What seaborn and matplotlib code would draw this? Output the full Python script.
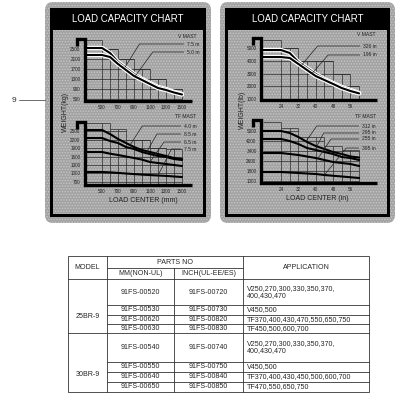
import numpy as np
import matplotlib
matplotlib.use("Agg")
import matplotlib.pyplot as plt
import matplotlib.patheffects as pe
from matplotlib.patches import Rectangle, FancyBboxPatch
import seaborn as sns

sns.set_style("white")
plt.rcParams["font.family"] = ["Liberation Sans", "DejaVu Sans"]
plt.rcParams["hatch.linewidth"] = 0.7

# ================= DATA =================
# ---- left label: metric (load center mm, weight kg) ----
mm_ticks = [500, 700, 900, 1100, 1300, 1500]
mm_grid = [500, 600, 700, 800, 900, 1000, 1100, 1200, 1300, 1400, 1500]

v_kg_ticks = [2500, 2100, 1700, 1300, 900, 500]
v_kg_steps_x = [290, 500, 700, 900, 1100, 1300, 1500]
v_kg_steps_top = [2860, 2500, 2100, 1700, 1300, 900]
v_kg_lc = [290, 500, 600, 700, 800, 900, 1000, 1100, 1200, 1300, 1400, 1500]
v_kg_75m = [2540, 2540, 2340, 1980, 1740, 1500, 1300, 1140, 980, 900, 780, 700]
v_kg_50m = [2260, 2260, 2180, 1900, 1660, 1420, 1260, 1100, 940, 860, 760, 680]
v_kg_names = ["7.5 m", "5.0 m"]

tf_kg_ticks = [2500, 2200, 1900, 1600, 1300, 1000, 700]
tf_kg_steps_x = [290, 600, 800, 1100, 1300, 1500]
tf_kg_steps_top = [2800, 2560, 2200, 1900, 1880]
tf_kg_lc = [290, 500, 600, 700, 800, 900, 1000, 1100, 1200, 1300, 1400, 1500]
tf_kg_40m = [2535, 2535, 2394, 2218, 2076, 1935, 1829, 1759, 1688, 1618, 1547, 1512]
tf_kg_85m = [2253, 2253, 2147, 2076, 1935, 1865, 1759, 1688, 1618, 1582, 1512, 1476]
tf_kg_65m = [1759, 1759, 1700, 1653, 1600, 1547, 1490, 1406, 1370, 1335, 1300, 1265]
tf_kg_75m = [1053, 1053, 1040, 1020, 1000, 980, 960, 945, 930, 915, 895, 876]
tf_kg_names = ["4.0 m", "8.5 m", "6.5 m", "7.5 m"]

# ---- right label: imperial (load center in, weight lb) ----
in_ticks = [24, 32, 40, 48, 56]
in_grid = [24, 28, 32, 36, 40, 44, 48, 52, 56, 60]

v_lb_ticks = [5000, 4000, 3000, 2000, 1000]
v_lb_steps_x = [15.5, 24, 32, 48, 56, 60]
v_lb_steps_top = [5630, 5000, 4000, 3000, 2000]
v_lb_lc = [15, 24, 28, 32, 36, 40, 44, 48, 52, 56, 60]
v_lb_326in = [4840, 4840, 4610, 3900, 3430, 2960, 2570, 2250, 1940, 1710, 1470]
v_lb_196in = [4290, 4290, 4220, 3750, 3270, 2800, 2490, 2180, 1860, 1630, 1440]
v_lb_names = ["326 in", "196 in"]

tf_lb_ticks = [5000, 4200, 3400, 2600, 1800, 1000]
tf_lb_steps_x = [15.5, 24, 32, 44, 52, 60]
tf_lb_steps_top = [5720, 5240, 4520, 3800, 3480]
tf_lb_lc = [15, 24, 28, 32, 36, 40, 44, 48, 52, 56, 60]
tf_lb_312in = [5000, 5000, 4840, 4520, 4120, 3800, 3560, 3320, 3160, 2960, 2880]
tf_lb_295in = [4360, 4360, 4200, 3960, 3640, 3480, 3320, 3160, 2920, 2840, 2680]
tf_lb_255in = [3240, 3240, 3160, 3080, 2960, 2840, 2680, 2520, 2440, 2360, 2200]
tf_lb_395in = [1720, 1720, 1680, 1640, 1600, 1560, 1480, 1420, 1360, 1300, 1240]
tf_lb_names = ["312 in", "295 in", "255 in", "395 in"]

# ---- parts table ----
models = ["25BR-9", "30BR-9"]
mm_parts = ["91FS-00520", "91FS-00530", "91FS-00620", "91FS-00630",
            "91FS-00540", "91FS-00550", "91FS-00640", "91FS-00650"]
inch_parts = ["91FS-00720", "91FS-00730", "91FS-00820", "91FS-00830",
              "91FS-00740", "91FS-00750", "91FS-00840", "91FS-00850"]
applications = ["V250,270,300,330,350,370,\n400,430,470", "V450,500",
                "TF370,400,430,470,550,650,750", "TF450,500,600,700",
                "V250,270,300,330,350,370,\n400,430,470", "V450,500",
                "TF370,400,430,450,500,600,700", "TF470,550,650,750"]
header_texts = ["MODEL", "PARTS NO", "MM(NON-UL)", "INCH(UL-EE/ES)", "APPLICATION"]

# ================= FIGURE =================
W = H = 400
fig = plt.figure(figsize=(4, 4), dpi=100)
fig.patch.set_facecolor("white")
bg = fig.add_axes([0, 0, 1, 1])
bg.set_xlim(0, W)
bg.set_ylim(H, 0)
bg.axis("off")

PANEL = "#a2a2a2"
DOTS = "#c6c6c6"

def panel(ox0, ox1, bx0, bx1):
    bg.add_patch(FancyBboxPatch((ox0, 2), ox1 - ox0, 221,
                                boxstyle="round,pad=0,rounding_size=8",
                                facecolor=PANEL, edgecolor=DOTS, hatch="......", lw=0))
    bg.add_patch(Rectangle((bx0, 8), bx1 - bx0, 209, facecolor="black", lw=0))
    bg.add_patch(Rectangle((bx0 + 3, 30), bx1 - bx0 - 6, 184,
                           facecolor=PANEL, edgecolor=DOTS, hatch="......", lw=0))
    bg.text((bx0 + bx1) / 2, 19.5, "LOAD CAPACITY CHART", color="white",
            fontsize=6.9, ha="center", va="center")

panel(45, 211, 50, 206)
panel(220, 395, 225, 390)

# callout "9"
bg.plot([19, 45], [100, 100], color="#555555", lw=0.6)
bg.text(14, 100, "9", fontsize=6, ha="center", va="center", color="#333333")


def chart_axes(x0, x1, y0, y1):
    return fig.add_axes([x0 / W, 1 - y1 / H, (x1 - x0) / W, (y1 - y0) / H])


def draw_chart(box, xlim, ylim, xticks, xgrid, yticks, steps_x, steps_top,
               lc, curves, names, leaders, mast, halo):
    x0, x1, y0, y1 = box
    ax = chart_axes(x0, x1, y0, y1)
    ax.patch.set_visible(False)
    for s in ax.spines.values():
        s.set_visible(False)
    gc = "#2a2a2a"
    # staircase grid
    for i in range(len(steps_top)):
        ax.hlines(steps_top[i], steps_x[i], steps_x[i + 1], color=gc, lw=0.5)
    for gx in sorted(set(list(xgrid) + list(steps_x[1:]))):
        tops = [steps_top[i] for i in range(len(steps_top))
                if steps_x[i] <= gx <= steps_x[i + 1]]
        if tops:
            ax.vlines(gx, ylim[0], max(tops), color=gc, lw=0.5)
    for lev in yticks:
        right = [steps_x[i + 1] for i in range(len(steps_top)) if steps_top[i] >= lev]
        if right:
            ax.hlines(lev, steps_x[0], max(right), color=gc, lw=0.5)
    # curves
    effects = [pe.Stroke(linewidth=3.2, foreground="white"), pe.Normal()] if halo else None
    for ys in curves:
        sns.lineplot(x=lc, y=ys, ax=ax, color="black", lw=1.5,
                     path_effects=effects, sort=False)
    # axis with hook
    hx = -8 / (x1 - x0)
    hy = 1 - 7 / (y1 - y0)
    ax.plot([hx, hx, 0, 0, 1], [hy, 1, 1, 0, 0], transform=ax.transAxes,
            color="black", lw=2.4, clip_on=False,
            solid_joinstyle="miter", solid_capstyle="butt")
    ax.set_xlim(*xlim)
    ax.set_ylim(*ylim)
    ax.set_xticks(xticks)
    ax.set_xticklabels([str(t) for t in xticks], fontsize=3.3, color="#222222")
    ax.set_yticks(yticks)
    ax.set_yticklabels([str(t) for t in yticks], fontsize=3.3, color="#222222")
    ax.tick_params(length=0, pad=3.2)
    ax.set_xlabel("")
    ax.set_ylabel("")
    # mast title and leaders
    mx, my = mast[1], mast[2]
    ax.annotate(mast[0], xy=(mx / W, 1 - my / H), xycoords="figure fraction",
                fontsize=3.6, ha="left", va="center", color="#222222")
    for (lx, ly, ax_x, ang), ys, name in zip(leaders, curves, names):
        ay = float(np.interp(ax_x, lc, ys))
        ax.annotate(name, xy=(ax_x, ay), xycoords="data",
                    xytext=(lx / W, 1 - ly / H), textcoords="figure fraction",
                    fontsize=3.6, ha="left", va="center", color="#222222",
                    arrowprops=dict(arrowstyle="-", color="#222222", lw=0.5,
                                    shrinkA=0, shrinkB=0, relpos=(0, 0.5),
                                    connectionstyle=f"angle,angleA=0,angleB={ang},rad=0"),
                    annotation_clip=False)
    return ax


# left top (V mast, kg)
draw_chart((85, 192, 39, 101), (287.5, 1625), (420, 2900), mm_ticks, mm_grid,
           v_kg_ticks, v_kg_steps_x, v_kg_steps_top, v_kg_lc,
           [v_kg_75m, v_kg_50m], v_kg_names,
           [(187, 44, 787, 58), (187, 52, 912, 54)], ("V MAST", 178, 37), True)
# left bottom (TF mast, kg)
draw_chart((85, 192, 122, 185), (287.5, 1625), (594, 2818), mm_ticks, mm_grid,
           tf_kg_ticks, tf_kg_steps_x, tf_kg_steps_top, tf_kg_lc,
           [tf_kg_40m, tf_kg_85m, tf_kg_65m, tf_kg_75m], tf_kg_names,
           [(184, 126, 850, 57), (184, 134, 1050, 60), (184, 142, 1100, 55), (184, 149, 1200, 63)],
           ("TF MAST", 175, 116.5), False)
# right top (V mast, lb)
draw_chart((261, 377, 38, 100), (14.78, 68.24), (923, 5784), in_ticks, in_grid,
           v_lb_ticks, v_lb_steps_x, v_lb_steps_top, v_lb_lc,
           [v_lb_326in, v_lb_196in], v_lb_names,
           [(363, 46, 33.7, 50), (363, 55, 38.3, 49)], ("V MAST", 357, 35), True)
# right bottom (TF mast, lb)
draw_chart((261, 377, 120, 182.5), (14.78, 68.24), (880, 5880), in_ticks, in_grid,
           tf_lb_ticks, tf_lb_steps_x, tf_lb_steps_top, tf_lb_lc,
           [tf_lb_312in, tf_lb_295in, tf_lb_255in, tf_lb_395in], tf_lb_names,
           [(362, 126, 35.5, 55), (362, 133, 39.7, 63), (362, 139, 41, 56), (362, 148, 44, 51)],
           ("TF MAST", 355, 116.5), False)

# axis titles
bg.text(143, 200.5, "LOAD CENTER (mm)", fontsize=5, ha="center", va="center", color="#222222")
bg.text(317, 199, "LOAD CENTER (in)", fontsize=5, ha="center", va="center", color="#222222")
bg.text(65, 112, "WEIGHT(kg)", fontsize=5, rotation=90, ha="center", va="center", color="#222222")
bg.text(242, 110, "WEIGHT(lb)", fontsize=5, rotation=90, ha="center", va="center", color="#222222")

# ================= TABLE =================
tx = [68, 107, 174, 243, 369]
ty_hdr = [256, 268, 279]
row_edges = [279, 305, 314.5, 324, 333, 362, 372, 382, 392]
LC = "#333333"
LW = 0.6
FS = 5.1
bg.add_patch(Rectangle((tx[0], ty_hdr[0]), tx[-1] - tx[0], row_edges[-1] - ty_hdr[0],
                       fill=False, edgecolor=LC, lw=LW))
bg.plot([tx[1], tx[1]], [ty_hdr[0], row_edges[-1]], color=LC, lw=LW)
bg.plot([tx[2], tx[2]], [ty_hdr[1], row_edges[-1]], color=LC, lw=LW)
bg.plot([tx[3], tx[3]], [ty_hdr[0], row_edges[-1]], color=LC, lw=LW)
bg.plot([tx[1], tx[3]], [ty_hdr[1], ty_hdr[1]], color=LC, lw=LW)
bg.plot([tx[0], tx[4]], [ty_hdr[2], ty_hdr[2]], color=LC, lw=LW)
for k, yv in enumerate(row_edges[1:-1], start=1):
    left = tx[0] if k == 4 else tx[1]
    bg.plot([left, tx[4]], [yv, yv], color=LC, lw=LW)

bg.text((tx[0] + tx[1]) / 2, (ty_hdr[0] + ty_hdr[2]) / 2, header_texts[0], fontsize=FS, ha="center", va="center")
bg.text((tx[1] + tx[3]) / 2, (ty_hdr[0] + ty_hdr[1]) / 2, header_texts[1], fontsize=FS, ha="center", va="center")
bg.text((tx[1] + tx[2]) / 2, (ty_hdr[1] + ty_hdr[2]) / 2, header_texts[2], fontsize=FS, ha="center", va="center")
bg.text((tx[2] + tx[3]) / 2, (ty_hdr[1] + ty_hdr[2]) / 2, header_texts[3], fontsize=FS, ha="center", va="center")
bg.text((tx[3] + tx[4]) / 2, (ty_hdr[0] + ty_hdr[2]) / 2, header_texts[4], fontsize=FS, ha="center", va="center")

for i in range(len(mm_parts)):
    yc = (row_edges[i] + row_edges[i + 1]) / 2
    bg.text((tx[1] + tx[2]) / 2, yc, mm_parts[i], fontsize=FS, ha="center", va="center")
    bg.text((tx[2] + tx[3]) / 2, yc, inch_parts[i], fontsize=FS, ha="center", va="center")
    bg.text(tx[3] + 4, yc, applications[i], fontsize=FS, ha="left", va="center", linespacing=1.0)
for g, m in enumerate(models):
    yc = row_edges[4 * g + 2] + 2.5
    bg.text((tx[0] + tx[1]) / 2, yc, m, fontsize=FS, ha="center", va="center")

fig.savefig("out.png", dpi=100, facecolor="white")
